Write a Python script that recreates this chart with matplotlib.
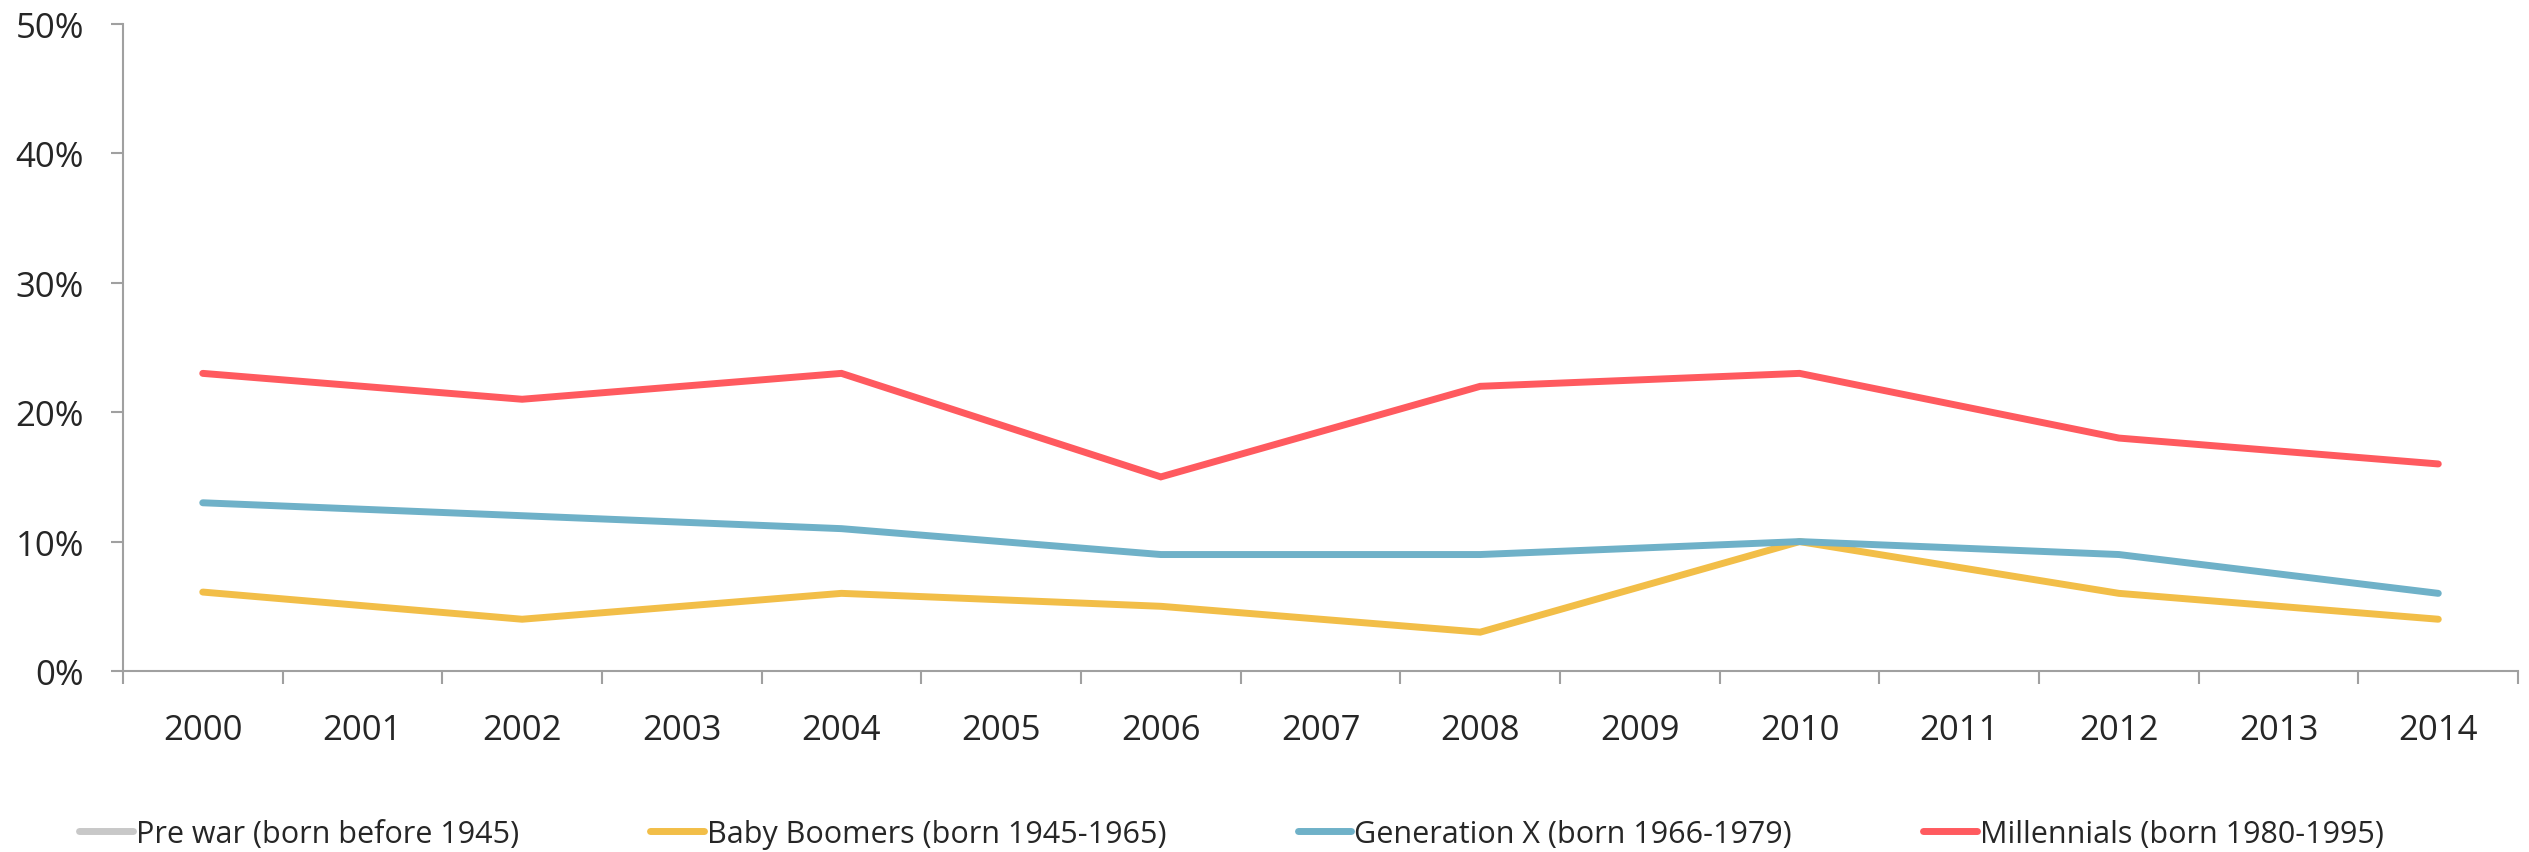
import matplotlib.pyplot as plt
import numpy as np

plt.rcParams['font.family'] = ['Open Sans', 'DejaVu Sans']

# survey years and share per generation (only even years were measured)
years = [str(y) for y in range(2000, 2015)]
measured_years = [2000, 2002, 2004, 2006, 2008, 2010, 2012, 2014]
pre_war = [np.nan] * 8
baby_boomers = [6.1, 4, 6, 5, 3, 10, 6, 4]
generation_x = [13, 12, 11, 9, 9, 10, 9, 6]
millennials = [23, 21, 23, 15, 22, 23, 18, 16]

series = [
    ("Pre war (born before 1945)", pre_war, "#c8c8c8"),
    ("Baby Boomers (born 1945-1965)", baby_boomers, "#f2be48"),
    ("Generation X (born 1966-1979)", generation_x, "#6fb1c8"),
    ("Millennials (born 1980-1995)", millennials, "#ff5a5f"),
]

axis_grey = "#a0a0a0"
text_col = "#262626"

fig = plt.figure(figsize=(25.29, 8.53), dpi=100)
ax = fig.add_axes([0.0486, 0.2122, 0.9471, 0.7585])

xpos = [years.index(str(y)) for y in measured_years]
for name, vals, col in series:
    ax.plot(xpos, np.array(vals) / 100, color=col, lw=5, label=name,
            solid_capstyle="round", solid_joinstyle="miter")

ax.set_xlim(-0.5, len(years) - 0.5)
ax.set_ylim(0, 0.5)

ax.set_yticks(np.arange(0, 0.51, 0.1))
ax.set_yticklabels([f"{int(v * 100)}%" for v in np.arange(0, 0.51, 0.1)])

# year labels in the middle of each category, tick marks on the boundaries
ax.set_xticks(np.arange(len(years)))
ax.set_xticklabels(years)
ax.set_xticks(np.arange(-0.5, len(years)), minor=True)
ax.tick_params(axis="x", which="major", length=0, pad=30, labelsize=25, labelcolor=text_col)
ax.tick_params(axis="x", which="minor", length=9, width=1.5, color=axis_grey, direction="out")
ax.tick_params(axis="y", length=9, width=1.5, color=axis_grey, pad=19, labelsize=25, labelcolor=text_col)

for s in ["top", "right"]:
    ax.spines[s].set_visible(False)
for s in ["left", "bottom"]:
    ax.spines[s].set_color(axis_grey)
    ax.spines[s].set_linewidth(1.5)

leg = fig.legend(loc="center", bbox_to_anchor=(0.487, 0.021), ncol=4, frameon=False,
                 fontsize=22, handlelength=1.75, handletextpad=0.1, columnspacing=4.3,
                 labelcolor=text_col)
for h in leg.legend_handles:
    h.set_linewidth(5)
    h.set_solid_capstyle("round")

fig.savefig("out.png", dpi=100)
